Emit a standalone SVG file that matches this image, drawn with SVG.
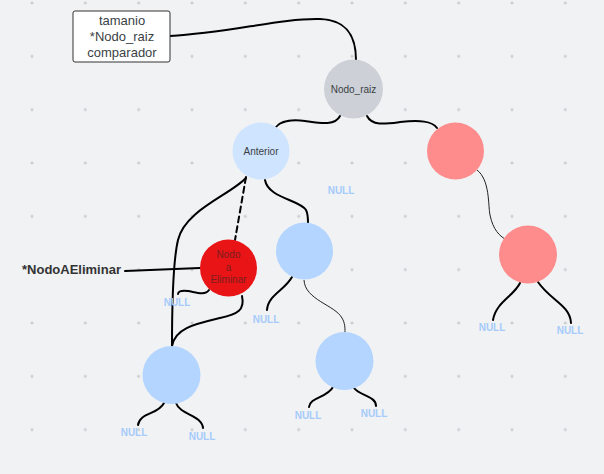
<svg xmlns="http://www.w3.org/2000/svg" width="604" height="474" viewBox="0 0 604 474">
<style>
.c{fill:none;stroke:#000;stroke-width:2;stroke-linecap:round}
.t{fill:none;stroke:#222;stroke-width:1}
.null{font-family:"Liberation Sans",Arial,sans-serif;font-size:10px;font-weight:bold;fill:#a6cbfb;text-anchor:middle}
.lbl{font-family:"Liberation Sans",Arial,sans-serif;font-size:10px;fill:#3a3f45;text-anchor:middle}
</style>
<defs>
<pattern id="grid" patternUnits="userSpaceOnUse" x="5.333" y="-23.667" width="53.333" height="53.333">
<path d="M25.17,26.67h3M26.67,25.17v3" stroke="#b4b6ba" stroke-width="0.8"/>
</pattern>
</defs>
<rect width="604" height="474" fill="#f1f2f4"/>
<rect width="604" height="474" fill="url(#grid)"/>
<g id="connectors">
<path class="c" d="M170,36 C230,33 280,18 320,19 C350,20 356,40 356,60"/>
<path class="c" d="M340,116 C335,126 320,123 305,121 C290,119 280,122 276,127"/>
<path class="c" d="M367,116 C372,126 385,124 400,122 C420,120 432,121 437,128"/>
<path class="t" d="M477,170 C490,180 488,205 490,215 C493,230 500,236 505,239"/>
<path class="c" d="M520,283 C514,296 496,302 493,320"/>
<path class="c" d="M538,282 C550,300 570,305 571,323"/>
<path class="c" d="M265,180 C268,198 300,200 306,210 C308,214 308,218 308,223"/>
<path class="c" d="M246,177 L235,240" stroke-dasharray="6,4"/>
<path class="c" d="M246,178 C230,195 185,210 178,240 C172,265 172,320 172,346"/>
<path class="c" d="M125,271 L200,268"/>
<path class="c" d="M209,290 C205,296 195,292 188,291 C180,290 178,292 178,294"/>
<path class="c" d="M242,296 C245,310 238,314 220,318 C195,324 175,328 172,346"/>
<path class="c" d="M292,277 C285,290 268,295 267,310"/>
<path class="t" d="M304,280 C305,300 335,305 342,318 C345,323 345,328 345,332"/>
<path class="c" d="M164,403 C158,415 140,412 138,425"/>
<path class="c" d="M176,403 C180,415 202,415 203,428"/>
<path class="c" d="M333,387 C327,398 310,397 309,407"/>
<path class="c" d="M354,388 C360,396 376,396 376,406"/>
</g>
<g id="info">
<rect x="73" y="11" width="97" height="51" rx="2" fill="#fff" stroke="#333" stroke-width="1"/>
<text font-family="Liberation Sans,Arial,sans-serif" font-size="13" fill="#3a3f45" text-anchor="middle"><tspan x="122" y="25">tamanio</tspan><tspan x="122" y="41">*Nodo_raiz</tspan><tspan x="122" y="57">comparador</tspan></text>
</g>
<g id="nodo_raiz"><circle cx="353.5" cy="89" r="29.5" fill="#cdd1d7"/><text class="lbl" x="353.5" y="92.5">Nodo_raiz</text></g>
<g id="anterior"><circle cx="261" cy="151" r="28.5" fill="#cfe4ff"/><text class="lbl" x="261" y="154.5">Anterior</text></g>
<g id="red1"><circle cx="455.5" cy="151" r="28.5" fill="#ff8c8c"/></g>
<g id="red2"><circle cx="528" cy="254.5" r="29" fill="#ff8c8c"/></g>
<g id="blue_mid"><circle cx="304.5" cy="251" r="28.5" fill="#b3d5ff"/></g>
<g id="nodo_eliminar"><circle cx="228.5" cy="268" r="28.5" fill="#e81416"/><text class="lbl" style="fill:#7a1f1f"><tspan x="228.5" y="258">Nodo</tspan><tspan x="228.5" y="270.5">a</tspan><tspan x="228.5" y="283">Eliminar</tspan></text></g>
<g id="blue_bl"><circle cx="171.5" cy="375" r="29" fill="#b3d5ff"/></g>
<g id="blue_bm"><circle cx="344.5" cy="361" r="29" fill="#b3d5ff"/></g>
<g id="label_eliminar"><text x="22" y="274" font-family="Liberation Sans,Arial,sans-serif" font-size="13" font-weight="bold" fill="#333">*NodoAEliminar</text></g>
<g id="nulls">
<text class="null" x="341" y="194">NULL</text>
<text class="null" x="177" y="306">NULL</text>
<text class="null" x="266" y="323">NULL</text>
<text class="null" x="134" y="436">NULL</text>
<text class="null" x="202" y="440">NULL</text>
<text class="null" x="308" y="419">NULL</text>
<text class="null" x="374" y="417">NULL</text>
<text class="null" x="492" y="331">NULL</text>
<text class="null" x="570" y="334">NULL</text>
</g>
</svg>
